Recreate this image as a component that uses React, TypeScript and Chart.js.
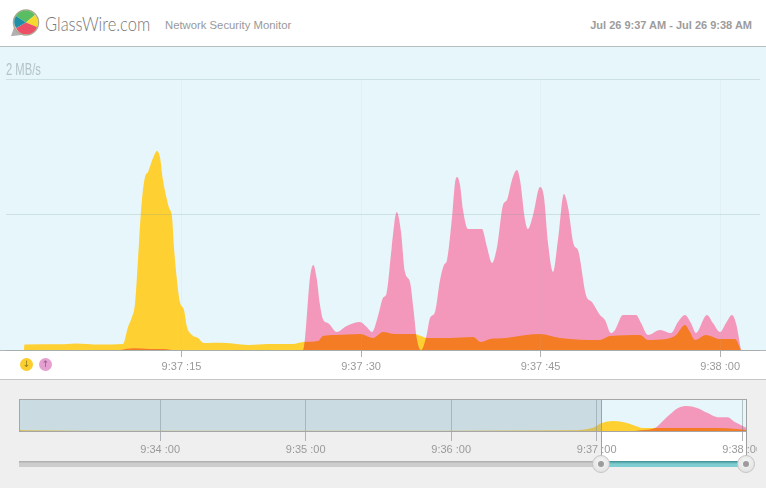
import React, { useEffect, useRef } from "react";
import { Chart, registerables } from "chart.js";

// ---- Detail chart: seconds after 9:37:00, MB/s ----
const downloadTimes = [1.84,1.88,4.85,6.1,8.19,10.11,10.53,10.86,11.12,11.45,11.67,11.95,12.2,12.62,12.95,13.2,13.45,13.79,13.96,14.21,14.37,14.62,14.87,15.21,15.46,15.88,16.38,16.88,17.63,18.8,20.72,22.14,24.31,25.15,26.4,26.82,27.82,29.91,31.0,31.83,32.84,34.51,35.01,35.51,37.43,39.35,40.02,40.77,42.11,43.78,44.95,46.62,49.96,50.8,53.3,53.97,55.48,56.31,57.06,57.48,57.9,58.82,60.0,61.24,61.74];
const downloadValues = [0,.04,.042,.048,.04,.044,.17,.244,.347,.79,1.085,1.277,1.314,1.417,1.469,1.424,1.255,1.107,1.048,.982,.76,.517,.354,.295,.17,.111,.089,.052,.054,.052,.037,.044,.044,.059,.066,.103,.111,.118,.089,.133,.118,.118,.103,.089,.089,.096,.059,.081,.089,.111,.118,.089,.074,.103,.111,.074,.081,.111,.185,.133,.074,.111,.081,.081,0];
const uploadTimes = [9.86,11.03,12.37,13.62,14.2,25.15,25.32,25.73,26.01,26.29,26.57,26.85,27.24,27.97,28.8,29.91,30.47,30.92,31.44,31.83,32.14,32.56,32.98,33.34,33.67,34.09,34.37,34.65,35.01,35.48,35.76,36.18,36.6,36.93,37.18,37.6,37.85,38.02,38.27,38.52,38.93,40.1,40.52,40.94,41.36,41.86,42.19,42.61,43.03,43.28,43.7,43.95,44.37,44.95,45.28,45.62,46.04,46.45,46.95,47.29,47.79,48.12,48.79,49.29,49.96,50.38,50.88,51.22,51.88,52.97,53.39,53.97,54.98,55.89,56.48,57.06,57.56,57.98,58.9,59.4,60.0,60.49,60.99,61.32,61.74];
const uploadValues = [0,.012,.007,.007,0,0,.089,.531,.627,.531,.332,.221,.199,.133,.177,.207,.17,.133,.258,.384,.421,.753,1.018,.871,.576,.502,.31,.089,0,.111,.236,.281,.517,.627,.664,.981,1.232,1.277,1.218,1.033,.893,.893,.76,.642,.76,1.07,1.107,1.255,1.328,1.255,.96,.893,.996,1.203,1.129,.79,.576,.812,1.151,1.055,.775,.738,.406,.354,.258,.221,.125,.148,.258,.258,.199,.111,.148,.125,.207,.258,.199,.125,.258,.199,.133,.199,.258,.199,0];
const detailTickSeconds = [15, 30, 45, 60];
const detailTickLabels = ["9:37 :15", "9:37 :30", "9:37 :45", "9:38 :00"];
const yTickValues = [0, 1, 2];
const topTickLabel = "2 MB/s";

// ---- Overview chart: minutes after 9:37:00, relative height ----
const overviewDownloadTimes = [-3.97,-3.9,-3.5,-3,-2,-1,-0.2,-0.03,0.036,0.11,0.18,0.25,0.32,0.41,0.5,0.71,0.9,1.03];
const overviewDownloadValues = [.07,.05,.04,.04,.04,.04,.05,.12,.27,.33,.3,.21,.12,.12,.12,.12,.11,.06];
const overviewUploadTimes = [0.23,0.3,0.4,0.455,0.5,0.56,0.62,0.69,0.76,0.83,0.9,0.95,1.03];
const overviewUploadValues = [0,.05,.12,.33,.52,.73,.79,.73,.58,.45,.45,.3,.12];
const overviewTickMinutes = [-3, -2, -1, 0, 1];
const overviewTickLabels = ["9:34 :00", "9:35 :00", "9:36 :00", "9:37 :00", "9:38 :00"];

const YELLOW = "rgb(255,208,50)";
const PINK = "rgb(243,152,186)";
const SANS = "'Liberation Sans', Arial, sans-serif";

const blendPlugin = {
  id: "blendOverlap",
  beforeDatasetDraw(chart: any, args: any) {
    if (args.index === 0) {
      chart.ctx.save();
      chart.ctx.globalCompositeOperation = "multiply";
    }
  },
  afterDatasetDraw(chart: any, args: any) {
    if (args.index === 0) chart.ctx.restore();
  },
};
// Registered before the Filler plugin so the blend mode also covers the area fill.
Chart.register(blendPlugin);
Chart.register(...registerables);

// The top tick's unit label sits above its grid line, in a condensed face.
const topLabelPlugin = {
  id: "topLabel",
  afterDraw(chart: any) {
    const { ctx, scales } = chart;
    ctx.save();
    ctx.translate(6, scales.y.getPixelForValue(2) - 8);
    ctx.scale(0.7, 1);
    ctx.font = `16px ${SANS}`;
    ctx.fillStyle = "#b3c4c6";
    ctx.textAlign = "left";
    ctx.textBaseline = "middle";
    ctx.fillText(topTickLabel, 0, 0);
    ctx.restore();
  },
};

const zip = (xs: number[], ys: number[]) => xs.map((x, i) => ({ x, y: ys[i] }));
const area = (data: any[], color: string) => ({
  data,
  backgroundColor: color,
  borderWidth: 0,
  pointRadius: 0,
  fill: "origin",
  cubicInterpolationMode: "monotone",
});

export default function App() {
  const detailRef = useRef<HTMLCanvasElement>(null);
  const overviewRef = useRef<HTMLCanvasElement>(null);

  useEffect(() => {
    const detail = new Chart(detailRef.current!, {
      type: "line",
      data: {
        datasets: [
          area(zip(downloadTimes, downloadValues), YELLOW),
          area(zip(uploadTimes, uploadValues), PINK),
        ] as any,
      },
      plugins: [topLabelPlugin],
      options: {
        animation: false,
        responsive: false,
        layout: { padding: { top: 32, left: 6, right: 6, bottom: 0 } },
        plugins: { legend: { display: false }, tooltip: { enabled: false } },
        scales: {
          x: {
            type: "linear",
            min: 0.338,
            max: 63.33,
            afterBuildTicks: (s: any) => { s.ticks = detailTickSeconds.map((value) => ({ value })); },
            afterFit: (s: any) => { s.height = 30; s.paddingLeft = 0; s.paddingRight = 0; },
            border: { display: false },
            grid: { color: "rgba(190,190,200,0.1)", tickColor: "#b0b0b0", tickLength: 7, z: 1 },
            ticks: {
              autoSkip: false,
              maxRotation: 0,
              padding: 3,
              color: "#9a9a9a",
              font: { family: SANS, size: 11 },
              callback: (v: any) => detailTickLabels[detailTickSeconds.indexOf(Number(v))] ?? "",
            },
          },
          y: {
            type: "linear",
            min: 0,
            max: 2,
            afterBuildTicks: (s: any) => { s.ticks = yTickValues.map((value) => ({ value })); },
            afterFit: (s: any) => { s.width = 0; },
            border: { display: false },
            grid: { color: "rgba(120,150,150,0.22)", drawTicks: false, z: 1 },
            ticks: { display: false },
          },
        },
      } as any,
    });

    const overview = new Chart(overviewRef.current!, {
      type: "line",
      data: {
        datasets: [
          area(zip(overviewDownloadTimes, overviewDownloadValues), YELLOW),
          area(zip(overviewUploadTimes, overviewUploadValues), PINK),
        ] as any,
      },
      options: {
        animation: false,
        responsive: false,
        layout: { padding: { top: 4, left: 19, right: 10, bottom: 0 } },
        plugins: { legend: { display: false }, tooltip: { enabled: false } },
        scales: {
          x: {
            type: "linear",
            min: -3.97,
            max: 1.033,
            afterBuildTicks: (s: any) => { s.ticks = overviewTickMinutes.map((value) => ({ value })); },
            afterFit: (s: any) => { s.height = 28; s.paddingLeft = 0; s.paddingRight = 0; },
            border: { display: false },
            grid: { color: "rgba(100,115,120,0.4)", tickColor: "#aeb4b6", tickLength: 9, z: 1 },
            ticks: {
              autoSkip: false,
              maxRotation: 0,
              padding: 2,
              color: "#9a9a9a",
              font: { family: SANS, size: 11 },
              callback: (v: any) => overviewTickLabels[overviewTickMinutes.indexOf(Number(v))] ?? "",
            },
          },
          y: { type: "linear", min: 0, max: 1, display: false },
        },
      } as any,
    });

    return () => {
      detail.destroy();
      overview.destroy();
    };
  }, []);

  const abs = (left: number, top: number, width: number, height: number, extra: React.CSSProperties = {}): React.CSSProperties => ({
    position: "absolute", left, top, width, height, ...extra,
  });
  const handle = (cx: number) => (
    <div style={abs(cx - 9, 455, 18, 18, { borderRadius: "50%", background: "radial-gradient(circle at 50% 40%, #f8f8f8, #dcdcdc)", border: "1px solid #c4c4c4", boxSizing: "border-box" })}>
      <div style={abs(5, 5, 6, 6, { borderRadius: "50%", background: "#9c9c9c" })} />
    </div>
  );

  return (
    <div style={abs(0, 0, 766, 488, { background: "#efefef", overflow: "hidden", fontFamily: SANS })}>
      {/* header */}
      <div style={abs(0, 0, 766, 46, { background: "#ffffff" })} />
      <div style={abs(0, 46, 766, 1, { background: "#b6bdbd" })} />
      <svg style={abs(9, 7, 34, 32)} viewBox="0 0 34 32">
        <path d="M2 29 L9 9 L20 27 L4 29 Z" fill="#b4afb0" />
        <circle cx="17" cy="15.5" r="12.5" fill="#fff" stroke="#a9a88f" strokeWidth="1.5" />
        <path d="M17 15.5 L7 9 A11.5 11.5 0 0 1 26 8 Z" fill="#5bbd62" />
        <path d="M17 15.5 L26 8 A11.5 11.5 0 0 1 28 20 Z" fill="#f6d92e" />
        <path d="M17 15.5 L28 20 A11.5 11.5 0 0 1 7 21 Z" fill="#ec4f66" />
        <path d="M17 15.5 L7 21 A11.5 11.5 0 0 1 7 9 Z" fill="#1f8fa6" />
      </svg>
      <div style={abs(45, 11, 120, 26, { fontFamily: "Lato, sans-serif", fontWeight: 300, fontSize: 19.5, lineHeight: "26px", color: "#777", whiteSpace: "nowrap", transform: "scaleX(0.845)", transformOrigin: "left center" })}>GlassWire.com</div>
      <div style={abs(165, 18, 160, 14, { fontSize: 11.3, lineHeight: "14px", color: "#999", whiteSpace: "nowrap" })}>Network Security Monitor</div>
      <div style={abs(552, 18, 200, 14, { fontSize: 11, lineHeight: "14px", fontWeight: 700, color: "#9c9c9c", textAlign: "right", whiteSpace: "nowrap" })}>Jul 26 9:37 AM - Jul 26 9:38 AM</div>

      {/* detail panel */}
      <div style={abs(0, 47, 766, 303, { background: "#e6f6fb" })} />
      <div style={abs(0, 350, 766, 29, { background: "#ffffff" })} />
      <div style={abs(0, 350, 766, 1, { background: "#b4b4b4" })} />
      <div style={abs(0, 379, 766, 1, { background: "#c6c6c6" })} />
      <canvas ref={detailRef} width={766} height={333} style={abs(0, 47, 766, 333, { display: "block" })} />
      <div style={abs(20, 358, 13, 13, { borderRadius: "50%", background: "#fbcd2d", color: "#8f7a20", fontSize: 9, lineHeight: "13px", textAlign: "center", fontFamily: "'DejaVu Sans'" })}>↓</div>
      <div style={abs(39, 358, 13, 13, { borderRadius: "50%", background: "#e59fd0", color: "#8f5f80", fontSize: 9, lineHeight: "13px", textAlign: "center", fontFamily: "'DejaVu Sans'" })}>↑</div>

      {/* overview panel */}
      <div style={abs(19, 399, 728, 33, { background: "#e6f6fb" })} />
      <div style={abs(601, 432, 145, 30, { background: "#ffffff" })} />
      <canvas ref={overviewRef} width={757} height={65} style={abs(0, 395, 757, 65, { display: "block" })} />
      <div style={abs(19, 399, 582, 33, { background: "rgba(145,165,175,0.33)" })} />
      <div style={abs(19, 399, 728, 33, { border: "1px solid #a6a6a6", boxSizing: "border-box" })} />
      <div style={abs(601, 399, 1, 60, { background: "#a0a0a0" })} />
      <div style={abs(746, 399, 1, 60, { background: "#a0a0a0" })} />

      {/* range slider */}
      <div style={abs(19, 461, 582, 6, { background: "linear-gradient(#a8a8a8, #cdcdcd 40%)" })} />
      <div style={abs(601, 461, 145, 6, { background: "linear-gradient(#3a8c92, #7fcdd0 50%)" })} />
      {handle(601)}
      {handle(746)}
    </div>
  );
}
